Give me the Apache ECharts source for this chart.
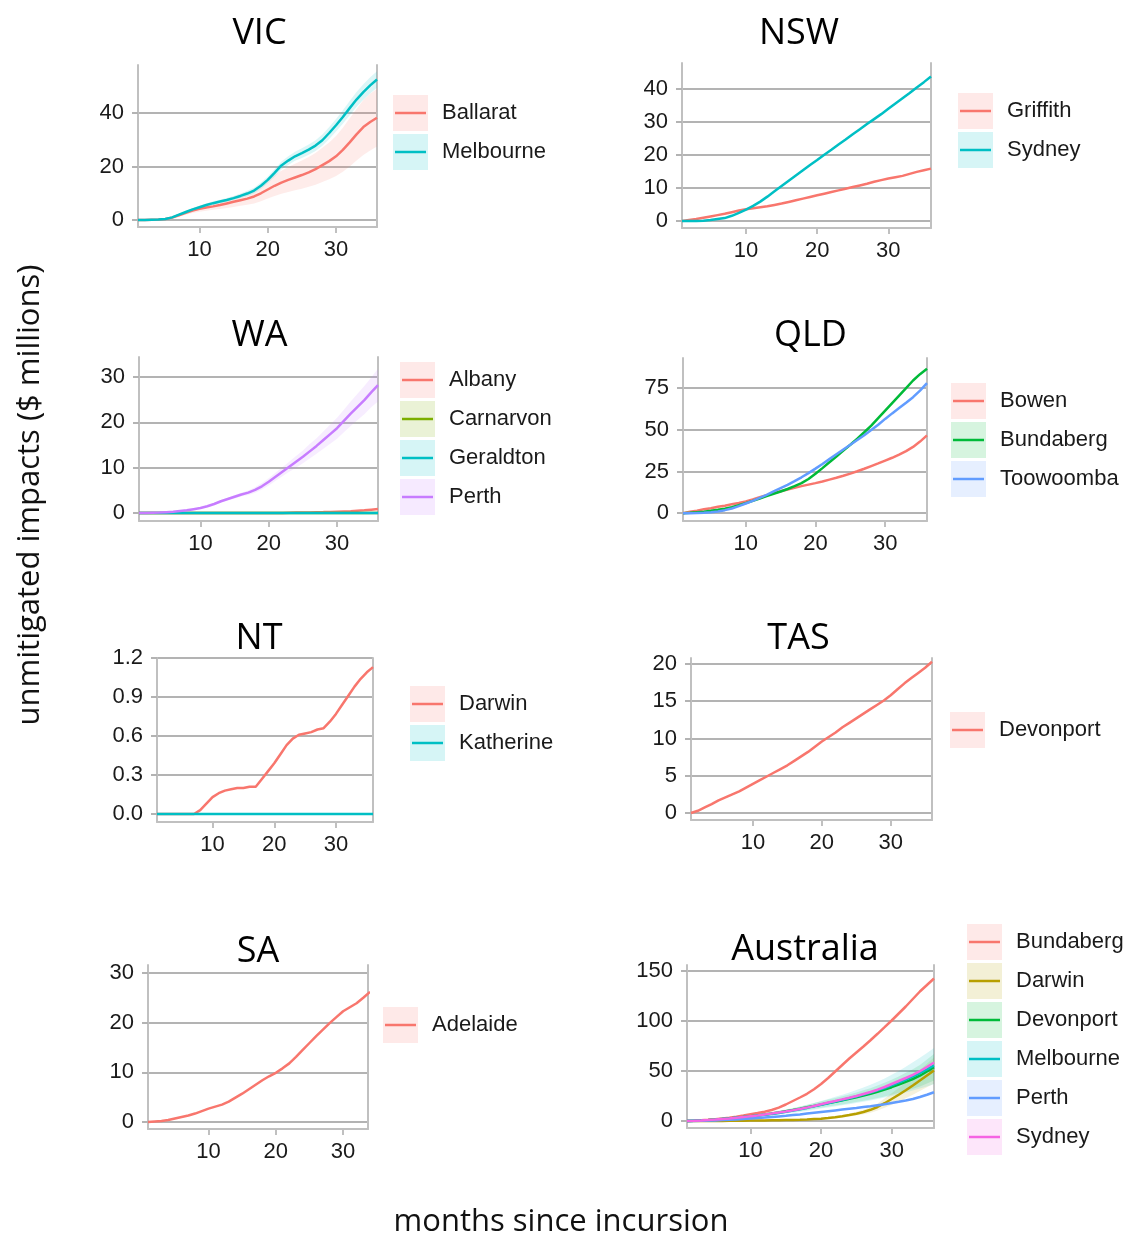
<!DOCTYPE html>
<html><head><meta charset="utf-8">
<script src="https://cdn.jsdelivr.net/npm/echarts@6/dist/echarts.min.js"></script>
<style>html,body{margin:0;padding:0;background:#fff}#c{width:1130px;height:1240px}</style>
</head><body><div id="c"></div>
<script>
// ---------------- data ----------------
const months = [1,2,3,4,5,6,7,8,9,10,11,12,13,14,15,16,17,18,19,20,21,22,23,24,25,26,27,28,29,30,31,32,33,34,35,36];
const xTicks = [10,20,30];

// VIC
const vicYTicks = [0,20,40];
const vicBallarat   = [0,0,0.1,0.2,0.4,0.9,1.8,2.7,3.5,4.2,4.7,5.1,5.6,6.2,6.8,7.4,8.0,8.8,10.0,11.4,12.8,14.0,15.0,15.9,16.8,17.8,19.0,20.5,22.0,23.8,26.2,29.0,32.0,34.7,36.6,38.2];
const vicBallaratLo = [0,0,0,0.1,0.3,0.6,1.3,2.0,2.6,3.1,3.5,3.8,4.1,4.5,4.9,5.3,5.7,6.2,7.0,8.0,9.0,9.8,10.5,11.1,11.7,12.4,13.2,14.2,15.2,16.4,18.0,20.0,22.2,24.3,26.0,27.5];
const vicBallaratHi = [0,0.1,0.2,0.4,0.6,1.2,2.3,3.4,4.4,5.3,6.0,6.5,7.2,8.0,8.8,9.6,10.5,11.6,13.2,15.0,16.8,18.4,19.8,21.0,22.2,23.5,25.0,27.0,29.0,31.4,34.5,38.0,41.5,44.8,47.2,49.0];
const vicMelbourne   = [0,0,0.1,0.2,0.4,1.0,2.0,3.0,4.0,4.8,5.6,6.3,6.9,7.5,8.2,9.0,9.9,11.0,12.8,15.0,17.6,20.4,22.2,23.8,25.0,26.3,27.8,29.8,32.5,35.4,38.5,41.8,45.0,47.8,50.3,52.5];
const vicMelbourneLo = [0,0,0,0.1,0.3,0.8,1.7,2.6,3.6,4.3,5.0,5.6,6.2,6.8,7.4,8.1,8.9,9.9,11.6,13.7,16.2,18.9,20.6,22.1,23.2,24.4,25.8,27.7,30.3,33.1,36.0,39.1,42.2,44.9,47.3,49.4];
const vicMelbourneHi = [0,0,0.2,0.3,0.5,1.2,2.3,3.4,4.4,5.3,6.2,7.0,7.6,8.2,9.0,9.9,10.9,12.1,14.0,16.3,19.0,21.9,23.8,25.5,26.8,28.2,29.8,31.9,34.7,37.7,41.0,44.5,47.8,50.7,53.3,55.6];

// NSW
const nswYTicks = [0,10,20,30,40];
const nswGriffith = [0,0.3,0.6,1.0,1.4,1.8,2.2,2.7,3.2,3.6,3.9,4.2,4.5,4.9,5.3,5.8,6.3,6.8,7.3,7.8,8.3,8.8,9.3,9.8,10.3,10.8,11.3,11.9,12.4,12.9,13.3,13.7,14.3,14.9,15.4,15.9];
const nswSydney   = [0,0,0,0.1,0.3,0.6,0.9,1.6,2.5,3.5,4.6,5.9,7.4,9.0,10.6,12.2,13.8,15.4,17.0,18.5,20.1,21.6,23.2,24.7,26.3,27.8,29.4,30.9,32.4,34.0,35.6,37.2,38.8,40.5,42.1,43.8];

// WA
const waYTicks = [0,10,20,30];
const waAlbany    = [0,0,0,0,0,0,0,0,0,0,0,0,0,0,0,0,0,0,0,0,0,0,0.05,0.1,0.12,0.15,0.2,0.22,0.25,0.3,0.35,0.4,0.5,0.6,0.75,0.9];
const waCarnarvon = [0,0,0,0,0,0,0,0,0,0,0,0,0,0,0,0,0,0,0,0,0,0,0,0,0,0,0,0,0,0,0,0,0,0,0,0];
const waGeraldton = [0,0,0,0,0,0,0,0,0,0,0,0,0,0,0,0,0,0,0,0,0,0,0,0,0,0,0,0,0,0,0,0,0,0,0,0];
const waPerth   = [0,0,0.05,0.1,0.2,0.3,0.45,0.6,0.85,1.1,1.5,2.0,2.6,3.1,3.6,4.1,4.5,5.1,5.9,6.9,8.0,9.1,10.2,11.3,12.4,13.6,14.8,16.1,17.4,18.7,20.3,21.9,23.4,24.9,26.6,28.2];
const waPerthLo = [0,0,0,0.05,0.15,0.25,0.4,0.5,0.75,1.0,1.3,1.8,2.3,2.8,3.2,3.7,4.0,4.5,5.2,6.1,7.1,8.1,9.1,10.0,11.0,12.0,13.1,14.2,15.3,16.4,17.8,19.2,20.5,21.8,23.3,24.6];
const waPerthHi = [0,0.05,0.1,0.15,0.25,0.35,0.5,0.7,0.95,1.2,1.7,2.2,2.9,3.4,4.0,4.5,5.0,5.7,6.6,7.7,8.9,10.1,11.3,12.6,13.8,15.2,16.5,18.0,19.5,21.0,22.8,24.6,26.3,28.0,29.9,31.8];

// QLD
const qldYTicks = [0,25,50,75];
const qldBowen     = [0,0.8,1.5,2.3,3.0,3.8,4.5,5.3,6.1,7.0,8.2,9.5,10.8,12.0,13.1,14.2,15.2,16.2,17.1,18.0,19.0,20.1,21.2,22.4,23.7,25.1,26.6,28.2,29.8,31.5,33.2,35.1,37.2,39.7,42.9,46.6];
const qldBundaberg = [0,0.2,0.5,0.9,1.4,2.0,2.7,3.6,4.7,6.0,7.4,8.8,10.2,11.6,13.0,14.5,16.2,18.0,20.5,23.6,27.0,30.5,34.0,37.5,41.0,44.6,48.5,52.5,57.0,61.5,66.0,70.5,75.0,79.5,83.3,86.5];
const qldToowoomba = [0,0,0.1,0.3,0.6,1.0,1.8,2.8,4.2,5.8,7.4,9.2,11.0,13.0,15.0,17.0,19.2,21.5,24.0,26.7,29.5,32.4,35.3,38.2,41.0,43.8,46.7,49.8,53.0,56.5,59.8,63.0,66.2,69.5,73.5,78.0];

// NT
const ntYTicks = [0,0.3,0.6,0.9,1.2];
const ntDarwin    = [0,0,0,0,0,0,0,0.03,0.08,0.13,0.16,0.18,0.19,0.2,0.2,0.21,0.21,0.27,0.33,0.39,0.46,0.53,0.58,0.61,0.62,0.63,0.65,0.66,0.71,0.77,0.84,0.91,0.98,1.04,1.09,1.13];
const ntKatherine = [0,0,0,0,0,0,0,0,0,0,0,0,0,0,0,0,0,0,0,0,0,0,0,0,0,0,0,0,0,0,0,0,0,0,0,0];

// TAS
const tasYTicks = [0,5,10,15,20];
const tasDevonport = [0,0.3,0.75,1.2,1.7,2.1,2.5,2.9,3.4,3.9,4.4,4.9,5.4,5.9,6.4,7.0,7.6,8.2,8.9,9.6,10.2,10.8,11.5,12.1,12.7,13.3,13.9,14.5,15.1,15.8,16.6,17.4,18.1,18.8,19.5,20.3];

// SA
const saYTicks = [0,10,20,30];
const saAdelaide = [0,0.1,0.2,0.4,0.7,1.0,1.3,1.7,2.2,2.7,3.1,3.5,4.1,4.9,5.7,6.6,7.5,8.4,9.2,9.9,10.8,11.8,13.1,14.5,15.9,17.3,18.6,19.9,21.1,22.3,23.1,23.9,25.0,26.2];

// Australia
const auYTicks = [0,50,100,150];
const auBundaberg = [0,0.3,0.7,1.2,1.8,2.5,3.3,4.3,5.5,6.8,8.0,9.3,11.0,13.4,16.5,20.0,23.5,27.2,31.8,37.0,43.0,49.5,56.0,62.5,68.5,74.5,80.8,87.2,93.8,100.5,107.5,114.5,122.0,129.5,136.0,142.5];
const auDarwin    = [0,0,0,0,0.05,0.1,0.15,0.2,0.3,0.4,0.5,0.6,0.7,0.8,0.9,1.0,1.2,1.5,1.9,2.3,3.0,3.8,4.8,6.0,7.3,9.0,11.2,14.0,17.8,22.0,26.3,30.7,35.5,40.5,45.5,50.5];
const auDarwinLo  = [0,0,0,0,0,0.05,0.1,0.15,0.2,0.3,0.35,0.45,0.5,0.6,0.65,0.75,0.9,1.1,1.4,1.7,2.2,2.8,3.5,4.4,5.4,6.7,8.3,10.4,13.2,16.3,19.5,22.8,26.3,30.0,33.7,37.5];
const auDarwinHi  = [0,0,0,0,0.1,0.15,0.2,0.3,0.4,0.5,0.65,0.75,0.9,1.0,1.15,1.3,1.5,1.9,2.4,2.9,3.8,4.8,6.1,7.6,9.2,11.3,14.1,17.6,22.4,27.7,33.1,38.6,44.7,51.0,57.3,63.5];
const auDevonport   = [0,0.2,0.5,0.9,1.4,2.0,2.6,3.3,4.0,4.8,5.6,6.5,7.5,8.6,9.8,11.0,12.3,13.7,15.1,16.5,17.9,19.3,20.7,22.2,23.8,25.5,27.2,29.2,31.4,33.8,36.4,39.2,42.0,45.3,49.5,53.8];
const auDevonportLo = [0,0.1,0.4,0.7,1.1,1.6,2.1,2.7,3.3,3.9,4.6,5.3,6.1,7.0,8.0,9.0,10.0,11.1,12.2,13.3,14.4,15.5,16.6,17.8,19.0,20.3,21.6,23.0,24.6,26.3,28.2,30.2,32.3,34.6,37.5,40.5];
const auDevonportHi = [0,0.3,0.6,1.1,1.7,2.4,3.1,3.9,4.7,5.7,6.6,7.7,8.9,10.2,11.6,13.0,14.6,16.3,18.0,19.7,21.4,23.1,24.8,26.6,28.6,30.7,32.8,35.4,38.2,41.3,44.6,48.2,51.7,56.0,61.5,67.0];
const auMelbourne   = [0,0.2,0.4,0.8,1.3,1.9,2.5,3.2,3.9,4.6,5.4,6.2,7.1,8.1,9.2,10.4,11.7,13.1,14.6,16.2,17.8,19.4,21.0,22.7,24.5,26.4,28.4,30.6,33.0,35.6,38.4,41.4,44.6,48.0,51.6,55.5];
const auMelbourneLo = [0,0.1,0.3,0.6,1.0,1.5,2.0,2.6,3.2,3.8,4.4,5.0,5.7,6.5,7.3,8.2,9.1,10.1,11.2,12.4,13.5,14.6,15.7,16.8,18.0,19.3,20.6,22.0,23.5,25.0,26.8,28.6,30.5,32.5,34.6,36.8];
const auMelbourneHi = [0,0.3,0.6,1.0,1.6,2.3,3.0,3.8,4.6,5.5,6.4,7.4,8.5,9.7,11.1,12.6,14.3,16.1,18.0,20.0,22.1,24.2,26.3,28.6,31.0,33.5,36.2,39.2,42.5,46.2,50.0,54.2,58.7,63.3,68.0,73.0];
const auPerth  = [0,0.1,0.2,0.4,0.6,0.9,1.2,1.6,2.0,2.5,3.0,3.5,4.0,4.6,5.2,5.9,6.6,7.4,8.2,9.0,9.8,10.6,11.4,12.2,13.0,13.9,14.8,15.8,16.8,18.0,19.2,20.5,22.0,24.0,26.3,28.8];
const auSydney = [0,0.2,0.5,0.9,1.4,2.0,2.6,3.3,4.0,4.8,5.6,6.5,7.4,8.4,9.5,10.7,12.0,13.4,15.0,16.8,18.5,20.0,21.6,23.2,25.0,27.0,29.0,31.3,34.0,37.0,40.0,43.0,46.2,49.8,54.0,58.5];

// ---------------- styles / layout ----------------
const HUE2 = ['#F8766D','#00BFC4'];
const HUE3 = ['#F8766D','#00BA38','#619CFF'];
const HUE4 = ['#F8766D','#7CAE00','#00BFC4','#C77CFF'];
const HUE6 = ['#F8766D','#B79F00','#00BA38','#00BFC4','#619CFF','#F564E3'];
const TICK_FONT = "'Liberation Sans', Arial, sans-serif";
const TITLE_FONT = "'Open Sans', sans-serif";
const AXIS_COL = '#c0c0c0', GRID_COL = '#b3b3b3', TXT = '#1a1a1a';

function rgba(hex, a) { const n = parseInt(hex.slice(1), 16); return 'rgba(' + ((n >> 16) & 255) + ',' + ((n >> 8) & 255) + ',' + (n & 255) + ',' + a + ')'; }

const panels = [
  {title:'VIC', tx:259.5, ty:34, grid:[138,65,239,162], x:[1,36], y:[-2.6,57.9], yTicks:vicYTicks,
   names:['Ballarat','Melbourne'], lines:[vicBallarat,vicMelbourne], colors:HUE2,
   ribbons:[[0,vicBallaratLo,vicBallaratHi],[1,vicMelbourneLo,vicMelbourneHi]], leg:[393,95]},
  {title:'NSW', tx:799, ty:34, grid:[682,63,249,165], x:[1,36], y:[-2.1,47.9], yTicks:nswYTicks,
   names:['Griffith','Sydney'], lines:[nswGriffith,nswSydney], colors:HUE2, ribbons:[], leg:[958,93]},
  {title:'WA', tx:259.5, ty:336, grid:[139,357,239,164], x:[1,36], y:[-1.75,34.4], yTicks:waYTicks,
   names:['Albany','Carnarvon','Geraldton','Perth'], lines:[waAlbany,waCarnarvon,waGeraldton,waPerth], colors:HUE4,
   ribbons:[[3,waPerthLo,waPerthHi]], leg:[400,362]},
  {title:'QLD', tx:810.5, ty:336, grid:[683,358,244,163], x:[1,36], y:[-4.7,93], yTicks:qldYTicks,
   names:['Bowen','Bundaberg','Toowoomba'], lines:[qldBowen,qldBundaberg,qldToowoomba], colors:HUE3, ribbons:[], leg:[951,383]},
  {title:'NT', tx:259, ty:638.5, grid:[157,658,216,164], x:[1,36], y:[-0.0615,1.2], yTicks:ntYTicks, fmt:v=>v.toFixed(1),
   names:['Darwin','Katherine'], lines:[ntDarwin,ntKatherine], colors:HUE2, ribbons:[], leg:[410,686]},
  {title:'TAS', tx:798.5, ty:638.5, grid:[691,658,241,162], x:[1,36], y:[-0.94,20.8], yTicks:tasYTicks,
   names:['Devonport'], lines:[tasDevonport], colors:HUE2, ribbons:[], leg:[950,712]},
  {title:'SA', tx:258, ty:952, grid:[148,965,220,164], x:[1,33.7], y:[-1.41,31.6], yTicks:saYTicks,
   names:['Adelaide'], lines:[saAdelaide], colors:HUE2, ribbons:[], leg:[383,1007]},
  {title:'Australia', tx:805, ty:949.5, grid:[687,965,247,163], x:[1,36], y:[-7,156], yTicks:auYTicks,
   names:['Bundaberg','Darwin','Devonport','Melbourne','Perth','Sydney'],
   lines:[auBundaberg,auDarwin,auDevonport,auMelbourne,auPerth,auSydney], colors:HUE6,
   ribbons:[[1,auDarwinLo,auDarwinHi],[2,auDevonportLo,auDevonportHi],[3,auMelbourneLo,auMelbourneHi]], leg:[967,924]}
];

const option = {
  animation:false, backgroundColor:'#ffffff',
  title:[], grid:[], xAxis:[], yAxis:[], legend:[], series:[],
  graphic:[
    {type:'text', x:30, y:495, rotation:Math.PI/2, silent:true,
     style:{text:'unmitigated impacts ($ millions)', fontFamily:TITLE_FONT, fontSize:31, fill:'#111', align:'center', verticalAlign:'middle'}},
    {type:'text', x:561, y:1222, silent:true,
     style:{text:'months since incursion', fontFamily:TITLE_FONT, fontSize:31, fill:'#111', align:'center', verticalAlign:'middle'}}
  ]
};

// ribbon (confidence band) drawn as one polygon through the axis scales
function ribbonSeries(xi, yi, lo, hi, color) {
  const band = lo.map((v, j) => [months[j], v, hi[j]]);
  return {type:'custom', xAxisIndex:xi, yAxisIndex:yi, silent:true, z:1,
    encode:{x:0, y:[1,2]}, data:band,
    renderItem:(params, api) => {
      if (params.dataIndex !== 0) return null;
      const pts = [];
      band.forEach(b => pts.push(api.coord([b[0], b[2]])));
      for (let j = band.length - 1; j >= 0; j--) pts.push(api.coord([band[j][0], band[j][1]]));
      return {type:'polygon', shape:{points:pts}, style:{fill:color}};
    }};
}

panels.forEach((p, i) => {
  option.title.push({text:p.title, left:p.tx, top:p.ty, textAlign:'center', textVerticalAlign:'middle', padding:0,
    textStyle:{fontFamily:TITLE_FONT, fontSize:36, fontWeight:'normal', color:'#000'}});
  option.grid.push({left:p.grid[0], top:p.grid[1], width:p.grid[2], height:p.grid[3], containLabel:false, outerBoundsMode:'none'});
  option.xAxis.push({gridIndex:i, type:'value', min:p.x[0], max:p.x[1],
    axisLine:{show:true, onZero:false, lineStyle:{color:AXIS_COL, width:2}},
    axisTick:{show:true, length:6, customValues:xTicks, lineStyle:{color:AXIS_COL, width:2}},
    axisLabel:{customValues:xTicks, margin:12, fontSize:22, fontFamily:TICK_FONT, color:TXT},
    splitLine:{show:false}});
  const yi = option.yAxis.length;
  option.yAxis.push({gridIndex:i, type:'value', min:p.y[0], max:p.y[1],
    axisLine:{show:true, onZero:false, lineStyle:{color:AXIS_COL, width:2}},
    axisTick:{show:true, length:6, customValues:p.yTicks, lineStyle:{color:GRID_COL, width:2}},
    axisLabel:{customValues:p.yTicks, margin:14, fontSize:22, fontFamily:TICK_FONT, color:TXT, formatter:p.fmt || (v => String(v))},
    splitLine:{show:true, lineStyle:{color:GRID_COL, width:2}}});
  option.yAxis.push({gridIndex:i, type:'value', position:'right', min:p.y[0], max:p.y[1],
    axisLine:{show:true, onZero:false, lineStyle:{color:AXIS_COL, width:2}},
    axisTick:{show:false}, axisLabel:{show:false}, splitLine:{show:false}});

  p.ribbons.forEach(([k, lo, hi]) => option.series.push(ribbonSeries(i, yi, lo, hi, rgba(p.colors[k], 0.14))));
  p.lines.forEach((vals, k) => {
    option.series.push({type:'line', name:p.names[k], xAxisIndex:i, yAxisIndex:yi, symbol:'none', showSymbol:false,
      silent:true, z:3, clip:true,
      lineStyle:{width:2.5, color:p.colors[k]}, itemStyle:{color:p.colors[k]},
      data:vals.map((v, j) => [months[j], v])});
  });

  // legend key backgrounds
  option.legend.push({orient:'vertical', left:p.leg[0], top:p.leg[1], padding:0, itemWidth:35, itemHeight:36, itemGap:3,
    icon:'rect', selectedMode:false, z:3, itemStyle:{borderWidth:0}, formatter:() => '', textStyle:{fontSize:10},
    data:p.names.map((n, k) => ({name:n, itemStyle:{color:rgba(p.colors[k], 0.16), borderWidth:0}}))});
  // legend key lines + labels
  option.legend.push({orient:'vertical', left:p.leg[0] + 2, top:p.leg[1], padding:0, itemWidth:31, itemHeight:2.5, itemGap:3,
    icon:'rect', selectedMode:false, z:4, itemStyle:{borderWidth:0},
    textStyle:{fontSize:22, lineHeight:36, fontFamily:TICK_FONT, color:TXT, padding:[0,0,0,11]},
    data:p.names.map((n, k) => ({name:n, itemStyle:{color:p.colors[k], borderWidth:0}}))});
});

const chart = echarts.init(document.getElementById('c'), null, {renderer:'canvas'});
chart.setOption(option);
</script></body></html>
